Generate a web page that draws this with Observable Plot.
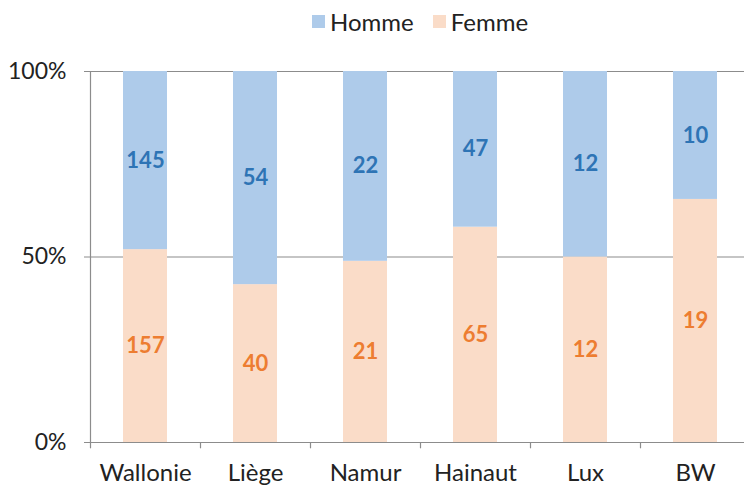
<!DOCTYPE html>
<html>
<head>
<meta charset="utf-8">
<script src="https://cdn.jsdelivr.net/npm/d3@7"></script>
<script src="https://cdn.jsdelivr.net/npm/@observablehq/plot@0.6"></script>
<style>
  html, body { margin: 0; padding: 0; background: #fff; }
  #wrap { position: relative; width: 744px; height: 493px; overflow: hidden; font-family: Lato, sans-serif; }
  #legend { position: absolute; top: 7px; left: 312px; display: flex; gap: 19px; font-size: 24px; color: #222; }
  .item { display: flex; align-items: center; gap: 5px; }
  .sw { width: 13px; height: 13px; display: inline-block; }
  #chart { position: absolute; top: 0; left: 0; }
</style>
</head>
<body>
<div id="wrap">
  <div id="chart"></div>
  <div id="legend"></div>
</div>
<script>
const categories = ["Wallonie", "Liège", "Namur", "Hainaut", "Lux", "BW"];
const homme = [145, 54, 22, 47, 12, 10];
const femme = [157, 40, 21, 65, 12, 19];
const series = ["Homme", "Femme"];
const colors = {Homme: "#AECBEA", Femme: "#FADCC8"};
const labelColors = {Homme: "#2E74B5", Femme: "#ED7D31"};
const yTicks = [0, 0.5, 1];

const rows = [];
categories.forEach((c, i) => {
  const tot = homme[i] + femme[i];
  rows.push({cat: c, serie: "Femme", n: femme[i], y1: 0, y2: femme[i] / tot});
  rows.push({cat: c, serie: "Homme", n: homme[i], y1: femme[i] / tot, y2: 1});
});

const chart = Plot.plot({
  width: 744,
  height: 493,
  marginTop: 71,
  marginBottom: 51,
  marginLeft: 90,
  marginRight: 0,
  style: {fontFamily: "Lato, sans-serif", background: "#fff"},
  x: {domain: categories, range: [90, 750], paddingInner: 0.6, paddingOuter: 0.3, align: 0.5, label: null},
  y: {domain: [0, 1], label: null},
  marks: [
    Plot.gridY(yTicks, {stroke: "#8c8c8c", strokeOpacity: 1, strokeWidth: 1.2}),
    Plot.rectY(rows, {x: "cat", y1: "y1", y2: "y2", fill: d => colors[d.serie]}),
    Plot.text(rows, {x: "cat", y: d => (d.y1 + d.y2) / 2, text: d => String(d.n),
      fill: d => labelColors[d.serie], fontSize: 22, fontWeight: "bold"}),
    Plot.frame({anchor: "left", stroke: "#8c8c8c", strokeWidth: 1.2}),
    Plot.ruleX(categories, {x: d => d, dx: -55, y1: 0, y2: -0.017, stroke: "#8c8c8c", strokeWidth: 1.2}),
    Plot.axisY(yTicks, {tickFormat: d => (d * 100) + "%", tickSize: 6, stroke: "#8c8c8c", tickPadding: 18, fontSize: 23, fill: "#222"}),
    Plot.axisX({tickSize: 0, tickPadding: 21, fontSize: 24, fill: "#222"})
  ]
});
document.getElementById("chart").appendChild(chart);

const lg = document.getElementById("legend");
series.forEach(s => {
  const it = document.createElement("div");
  it.className = "item";
  it.innerHTML = `<span class="sw" style="background:${colors[s]}"></span><span>${s}</span>`;
  lg.appendChild(it);
});
</script>
</body>
</html>
